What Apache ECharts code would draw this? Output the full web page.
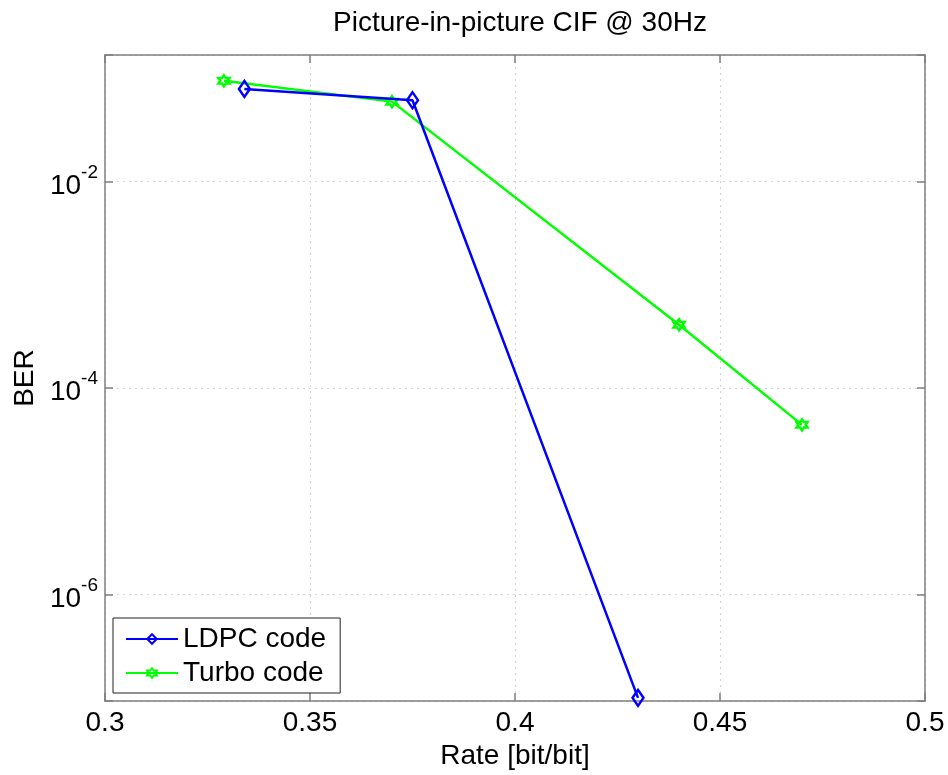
<!DOCTYPE html>
<html>
<head>
<meta charset="utf-8">
<script src="https://cdn.jsdelivr.net/npm/echarts@6/dist/echarts.min.js"></script>
<style>html,body{margin:0;padding:0;background:#fff}#c{width:948px;height:775px}</style>
</head>
<body>
<div id="c"></div>
<script>
const titleText = 'Picture-in-picture CIF @ 30Hz';
const xName = 'Rate [bit/bit]';
const yName = 'BER';
const xTicks = [0.3, 0.35, 0.4, 0.45, 0.5];
const yExtent = [9.3e-8, 0.168];

const ldpcRate = [0.334, 0.375, 0.43];
const ldpcBER = [0.0789, 0.0613, 1.0e-7];
const turboRate = [0.329, 0.37, 0.44, 0.47];
const turboBER = [0.0944, 0.0594, 4.1e-4, 4.4e-5];

const FONT = '"Liberation Sans", Arial, sans-serif';
const AX = '#7f7f7f';
const hexagram = 'path://M0,-10L2.89,-5L8.66,-5L5.77,0L8.66,5L2.89,5L0,10L-2.89,5L-8.66,5L-5.77,0L-8.66,-5L-2.89,-5Z';

function zip(a, b) { return a.map((v, i) => [v, b[i]]); }
function yLabel(v) {
  const e = Math.log10(v);
  const r = Math.round(e);
  if (Math.abs(e - r) > 1e-6 || r % 2 !== 0) return '';
  return '{b|10}{s|' + r + '}';
}

const chart = echarts.init(document.getElementById('c'));
const xBase = {
  type: 'value', min: xTicks[0], max: xTicks[xTicks.length - 1], interval: 0.05,
  axisLine: { show: true, lineStyle: { color: AX, width: 1.5 } },
  axisTick: { show: true, inside: true, length: 8, lineStyle: { color: AX, width: 1.5 } }
};
const yBase = {
  type: 'log', logBase: 100, min: yExtent[0], max: yExtent[1],
  axisLine: { show: true, lineStyle: { color: AX, width: 1.5 } },
  axisTick: { show: true, inside: true, length: 8, lineStyle: { color: AX, width: 1.5 } },
  minorTick: { show: false }
};
chart.setOption({
  animation: false,
  backgroundColor: '#fff',
  textStyle: { fontFamily: FONT },
  title: {
    text: titleText, left: 515, top: 4, textAlign: 'center',
    textStyle: { fontFamily: FONT, fontSize: 28, fontWeight: 'normal', color: '#000' }
  },
  grid: { left: 105, right: 23, top: 55, bottom: 73 },
  legend: {
    orient: 'vertical', left: 113, top: 618,
    backgroundColor: '#fff', borderColor: '#222', borderWidth: 1,
    padding: [7, 14, 6, 12], itemGap: 6, itemWidth: 52, itemHeight: 12,
    textStyle: { fontFamily: FONT, fontSize: 28, color: '#000' },
    data: ['LDPC code', 'Turbo code']
  },
  xAxis: [
    Object.assign({}, xBase, {
      position: 'bottom', name: xName, nameLocation: 'middle', nameGap: 39,
      nameTextStyle: { fontFamily: FONT, fontSize: 28, color: '#000' },
      axisLabel: { margin: 8, fontFamily: FONT, fontSize: 28, color: '#000' },
      splitLine: { show: true, lineStyle: { color: '#d4d4d4', type: [2, 4], width: 1 } }
    }),
    Object.assign({}, xBase, { position: 'top', axisLabel: { show: false }, splitLine: { show: false } })
  ],
  yAxis: [
    Object.assign({}, yBase, {
      position: 'left', name: yName, nameLocation: 'middle', nameGap: 62,
      nameTextStyle: { fontFamily: FONT, fontSize: 28, color: '#000' },
      axisLabel: {
        margin: 7, formatter: yLabel,
        rich: {
          b: { fontFamily: FONT, fontSize: 28, color: '#000', verticalAlign: 'bottom' },
          s: { fontFamily: FONT, fontSize: 19, color: '#000', verticalAlign: 'top', padding: [0, 0, 18, 0] }
        }
      },
      splitLine: { show: true, lineStyle: { color: '#d4d4d4', type: [2, 4], width: 1 } }
    }),
    Object.assign({}, yBase, { position: 'right', axisLabel: { show: false }, splitLine: { show: false } })
  ],
  series: [
    {
      name: 'LDPC code', type: 'line', data: zip(ldpcRate, ldpcBER),
      symbol: 'diamond', symbolSize: [11, 16], showAllSymbol: true,
      lineStyle: { color: '#0000ff', width: 2.5 },
      itemStyle: { color: 'rgba(255,255,255,0)', borderColor: '#0000ff', borderWidth: 2.5 },
      z: 3
    },
    {
      name: 'Turbo code', type: 'line', data: zip(turboRate, turboBER),
      symbol: hexagram, symbolSize: 11, showAllSymbol: true,
      lineStyle: { color: '#00ff00', width: 2.5 },
      itemStyle: { color: 'rgba(255,255,255,0)', borderColor: '#00ff00', borderWidth: 2.5 },
      z: 2
    }
  ]
});
</script>
</body>
</html>
